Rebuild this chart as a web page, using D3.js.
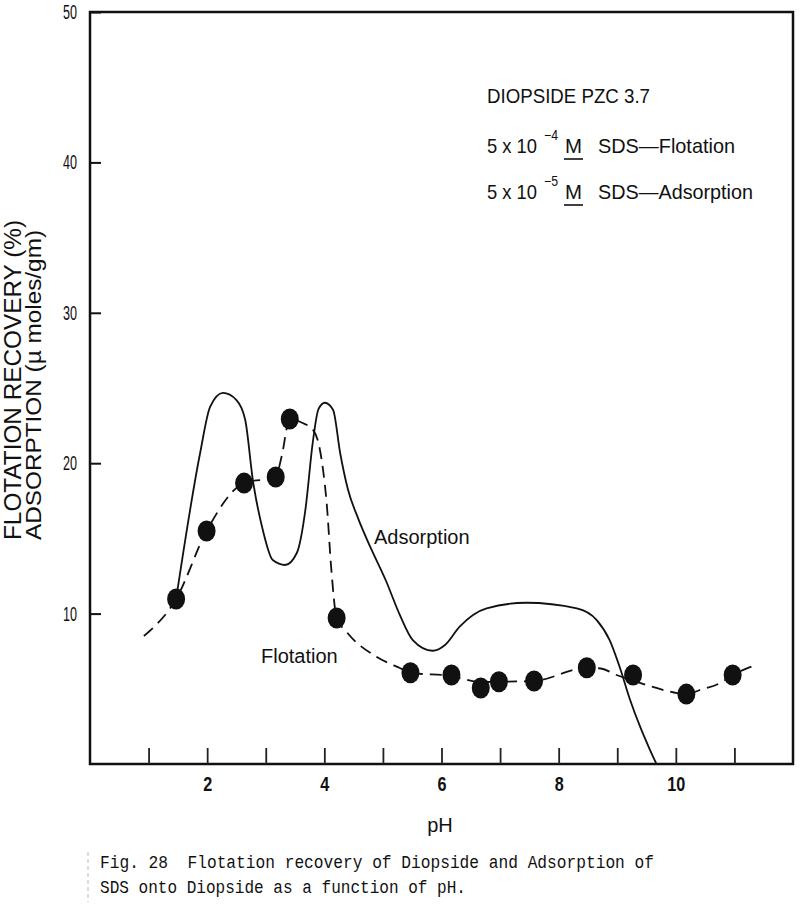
<!DOCTYPE html>
<html>
<head>
<meta charset="utf-8">
<script src="https://cdn.jsdelivr.net/npm/d3@7"></script>
<style>
  html, body { margin: 0; padding: 0; background: #fff; }
  svg { display: block; }
</style>
</head>
<body>
<svg id="chart" width="800" height="904"></svg>
<script>
// Flotation recovery points (5x10^-4 M SDS)
const flotPH  = [1.47, 1.99, 2.63, 3.17, 3.41, 4.21, 5.47, 6.17, 6.67, 6.98, 7.58, 8.48, 9.27, 10.18, 10.97];
const flotRec = [10.97, 15.49, 18.68, 19.08, 22.94, 9.71, 6.07, 5.92, 5.05, 5.47, 5.52, 6.40, 5.92, 4.65, 5.92];

// dashed flotation curve as drawn
const flotCurvePH  = [0.92, 1.47, 1.99, 2.63, 3.17, 3.27, 3.41, 3.63, 3.81, 3.89, 3.98, 4.04, 4.12, 4.21, 4.38, 4.89, 5.29, 5.47, 6.17, 6.67, 6.98, 7.58, 8.48, 8.72, 9.0, 9.27, 9.5, 9.84, 10.18, 10.41, 10.75, 10.97, 11.29];
const flotCurveVal = [8.51, 10.97, 15.49, 18.68, 19.08, 20.43, 22.94, 22.67, 22.2, 21.5, 19.5, 17.35, 12.9, 9.71, 8.78, 7.13, 6.38, 6.07, 5.85, 5.45, 5.47, 5.52, 6.40, 6.35, 5.9, 5.55, 5.25, 4.87, 4.63, 4.92, 5.37, 5.92, 6.47];

// adsorption curve (5x10^-5 M SDS), solid line
const adsPH  = [1.47, 1.88, 2.05, 2.27, 2.50, 2.65, 2.78, 2.95, 3.12, 3.33, 3.53, 3.68, 3.80, 3.90, 4.01, 4.15, 4.27, 4.40, 4.58, 4.80, 5.05, 5.29, 5.51, 5.85, 6.06, 6.31, 6.77, 7.45, 8.31, 8.65, 8.87, 9.04, 9.22, 9.39, 9.56, 9.67];
const adsVal = [10.97, 20.68, 23.74, 24.67, 24.2, 22.87, 18.88, 15.56, 13.56, 13.23, 14.03, 17.0, 21.3, 23.6, 24.02, 23.54, 20.68, 18.3, 16.3, 14.3, 12.2, 9.9, 8.24, 7.53, 7.91, 9.13, 10.35, 10.72, 10.35, 9.57, 8.24, 6.47, 4.26, 2.48, 0.93, 0];

const xTicks = d3.range(1, 12);
const xLabels = [2, 4, 6, 8, 10];
const yTicks = [10, 20, 30, 40, 50];

const svg = d3.select('#chart');

const x = d3.scaleLinear().domain([0, 12]).range([90, 793]);
const y = d3.scaleLinear().domain([0, 50]).range([764, 12]);

const sans = '"Liberation Sans", Arial, sans-serif';
const mono = '"Liberation Mono", "DejaVu Sans Mono", monospace';

// frame
svg.append('rect')
    .attr('x', x(0))
    .attr('y', y(50))
    .attr('width', x(12) - x(0))
    .attr('height', y(0) - y(50))
    .attr('fill', 'none')
    .attr('stroke', '#111')
    .attr('stroke-width', 2.5);

// y axis, ticks pointing inward
const gy = svg.append('g')
    .attr('transform', `translate(${x(0)},0)`)
    .call(d3.axisLeft(y).tickValues(yTicks).tickSize(-11).tickPadding(13));
gy.select('.domain').remove();
gy.selectAll('.tick line').attr('stroke', '#111').attr('stroke-width', 2);
gy.selectAll('.tick text')
    .attr('font-family', sans)
    .attr('font-size', 20)
    .attr('fill', '#111')
    .attr('textLength', d => String(d).length * 7)
    .attr('lengthAdjust', 'spacingAndGlyphs');

// x axis, ticks pointing inward
const gx = svg.append('g')
    .attr('transform', `translate(0,${y(0)})`)
    .call(d3.axisBottom(x).tickValues(xTicks).tickSize(-16).tickPadding(12)
        .tickFormat(d => xLabels.includes(d) ? d : ''));
gx.select('.domain').remove();
gx.selectAll('.tick line').attr('stroke', '#222').attr('stroke-width', 1.8);
gx.selectAll('.tick text')
    .attr('font-family', sans)
    .attr('font-weight', 'bold')
    .attr('font-size', 21)
    .attr('fill', '#111')
    .attr('textLength', d => String(d).length * 9)
    .attr('lengthAdjust', 'spacingAndGlyphs');

// curves
const line = d3.line()
    .x(d => x(d[0]))
    .y(d => y(d[1]))
    .curve(d3.curveMonotoneX);

svg.append('path')
    .datum(adsPH.map((p, i) => [p, adsVal[i]]))
    .attr('d', line)
    .attr('fill', 'none')
    .attr('stroke', '#111')
    .attr('stroke-width', 1.8);

svg.append('path')
    .datum(flotCurvePH.map((p, i) => [p, flotCurveVal[i]]))
    .attr('d', line)
    .attr('fill', 'none')
    .attr('stroke', '#111')
    .attr('stroke-width', 1.8)
    .attr('stroke-dasharray', '12,7');

svg.append('g')
    .selectAll('ellipse')
    .data(flotPH.map((p, i) => [p, flotRec[i]]))
    .enter().append('ellipse')
    .attr('cx', d => x(d[0]))
    .attr('cy', d => y(d[1]))
    .attr('rx', 9)
    .attr('ry', 10.5)
    .attr('fill', '#111');

// curve labels
svg.append('text')
    .attr('x', 374).attr('y', 544)
    .attr('font-family', sans).attr('font-size', 20).attr('fill', '#111')
    .text('Adsorption');
svg.append('text')
    .attr('x', 261).attr('y', 663)
    .attr('font-family', sans).attr('font-size', 20).attr('fill', '#111')
    .text('Flotation');

// legend block
const lg = svg.append('g')
    .attr('font-family', sans)
    .attr('font-size', 21)
    .attr('fill', '#111');

lg.append('text').attr('x', 487).attr('y', 103)
    .attr('textLength', 163).attr('lengthAdjust', 'spacingAndGlyphs')
    .text('DIOPSIDE PZC 3.7');

const legendRows = [
    { base: 153, exp: '\u22124', label: 'SDS\u2014Flotation', len: 137 },
    { base: 199, exp: '\u22125', label: 'SDS\u2014Adsorption', len: 155 }
];
legendRows.forEach(r => {
    const t = lg.append('text').attr('y', r.base);
    t.append('tspan').attr('x', 487)
        .attr('textLength', 50).attr('lengthAdjust', 'spacingAndGlyphs')
        .text('5 x 10');
    t.append('tspan').attr('x', 544).attr('y', r.base - 13)
        .attr('font-size', 14)
        .attr('textLength', 14).attr('lengthAdjust', 'spacingAndGlyphs')
        .text(r.exp);
    t.append('tspan').attr('x', 565).attr('y', r.base)
        .attr('textLength', 17).attr('lengthAdjust', 'spacingAndGlyphs')
        .text('M');
    t.append('tspan').attr('x', 598).attr('y', r.base)
        .attr('textLength', r.len).attr('lengthAdjust', 'spacingAndGlyphs')
        .text(r.label);
    lg.append('line')
        .attr('x1', 564).attr('x2', 583)
        .attr('y1', r.base + 6).attr('y2', r.base + 6)
        .attr('stroke', '#111').attr('stroke-width', 1.6);
});

// y axis title (two lines)
svg.append('text')
    .attr('transform', 'translate(21,380) rotate(-90)')
    .attr('text-anchor', 'middle')
    .attr('font-family', sans).attr('font-size', 24).attr('fill', '#111')
    .attr('textLength', 320).attr('lengthAdjust', 'spacingAndGlyphs')
    .text('FLOTATION RECOVERY (%)');
svg.append('text')
    .attr('transform', 'translate(41,385) rotate(-90)')
    .attr('text-anchor', 'middle')
    .attr('font-family', sans).attr('font-size', 22).attr('fill', '#111')
    .attr('textLength', 310).attr('lengthAdjust', 'spacingAndGlyphs')
    .text('ADSORPTION (\u00b5 moles/gm)');

// x axis title
svg.append('text')
    .attr('x', 440).attr('y', 832)
    .attr('text-anchor', 'middle')
    .attr('font-family', sans).attr('font-size', 20).attr('fill', '#111')
    .text('pH');

// caption
svg.append('line')
    .attr('x1', 88).attr('x2', 88).attr('y1', 852).attr('y2', 902)
    .attr('stroke', '#bbb').attr('stroke-width', 1).attr('stroke-dasharray', '4,3');
svg.append('text')
    .attr('x', 100).attr('y', 868)
    .attr('xml:space', 'preserve').style('white-space', 'pre')
    .attr('font-family', mono).attr('font-size', 19).attr('fill', '#111')
    .attr('textLength', 554).attr('lengthAdjust', 'spacingAndGlyphs')
    .text('Fig. 28  Flotation recovery of Diopside and Adsorption of');
svg.append('text')
    .attr('x', 100).attr('y', 893)
    .attr('font-family', mono).attr('font-size', 19).attr('fill', '#111')
    .attr('textLength', 366).attr('lengthAdjust', 'spacingAndGlyphs')
    .text('SDS onto Diopside as a function of pH.');
</script>
</body>
</html>
